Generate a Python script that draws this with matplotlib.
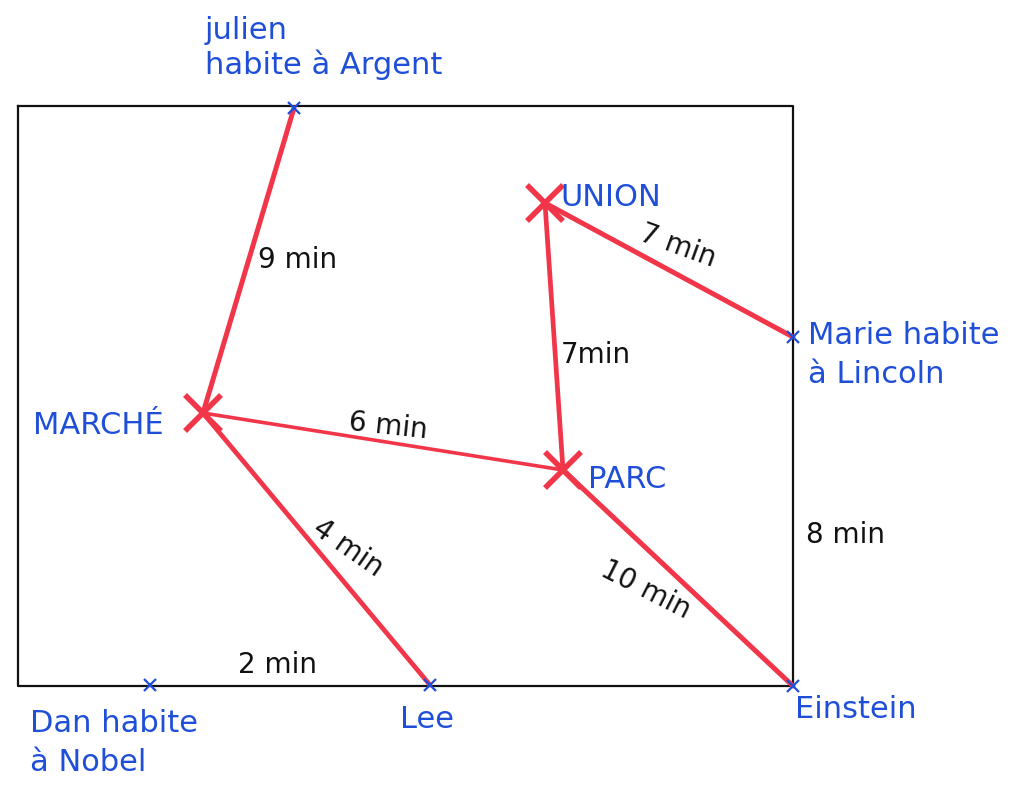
import matplotlib.pyplot as plt

# plan du quartier, coordonnées (pixels)
lieux = ['Argent', 'Marché', 'Union', 'Lincoln', 'Parc', 'Einstein', 'Lee', 'Nobel']
lx = [294, 203, 545, 793, 563, 793, 430, 150]
ly = [108, 413, 203, 337, 470, 686, 685, 685]
gros = ['Marché', 'Union', 'Parc']

# routes (rouges) et durées
routes = [('Argent', 'Marché'), ('Marché', 'Parc'), ('Marché', 'Lee'),
          ('Union', 'Parc'), ('Union', 'Lincoln'), ('Parc', 'Einstein')]
epaisseur = [3.6, 2.6, 3.4, 3.4, 3.6, 3.6]

# le cadre (rue noire)
cadre_x = [18, 793, 793, 18, 18]
cadre_y = [106, 106, 686, 686, 106]

# textes des durées
durees = ['9 min', '7 min', '7min', '6 min', '4 min', '2 min', '8 min', '10 min']
dx = [298, 678, 596, 388, 348, 277, 846, 646]
dy = [260, 246, 355, 426, 548, 665, 535, 590]
drot = [0, -20, 0, -6, -35, 0, 0, -27]

# étiquettes bleues
noms = ['julien\nhabite à Argent', 'MARCHÉ', 'UNION', 'PARC',
        'Marie habite\nà Lincoln', 'Einstein', 'Lee', 'Dan habite\nà Nobel']
nx = [205, 33, 560, 588, 808, 795, 400, 30]
ny = [48, 425, 198, 480, 355, 710, 720, 743]
interligne = [1.15, 1.4, 1.4, 1.4, 1.4, 1.4, 1.4, 1.4]

pos = dict(zip(lieux, zip(lx, ly)))
bleu = '#1f4fd8'
rouge = '#f2364a'

fig = plt.figure(figsize=(10.32, 7.85), dpi=100)
ax = fig.add_axes([0, 0, 1, 1])
ax.set_xlim(0, 1032)
ax.set_ylim(785, 0)
ax.axis('off')

ax.plot(cadre_x, cadre_y, color='#111111', lw=1.6, zorder=1)

for (a, b), w in zip(routes, epaisseur):
    ax.plot([pos[a][0], pos[b][0]], [pos[a][1], pos[b][1]],
            color=rouge, lw=w, solid_capstyle='round', zorder=2)

for n in lieux:
    x, y = pos[n]
    if n in gros:
        ax.plot(x, y, marker='x', ms=26, mew=4, color=rouge, zorder=3)
    else:
        ax.plot(x, y, marker='x', ms=9, mew=1.6, color=bleu, zorder=3)

for t, x, y, r in zip(durees, dx, dy, drot):
    ax.text(x, y, t, fontsize=20, color='#111111', rotation=r,
            ha='center', va='center', family='DejaVu Sans')

for t, x, y, ls in zip(noms, nx, ny, interligne):
    ax.text(x, y, t, fontsize=22, color=bleu, ha='left', va='center',
            linespacing=ls, family='DejaVu Sans')

fig.savefig('out.png', dpi=100, facecolor='white')
